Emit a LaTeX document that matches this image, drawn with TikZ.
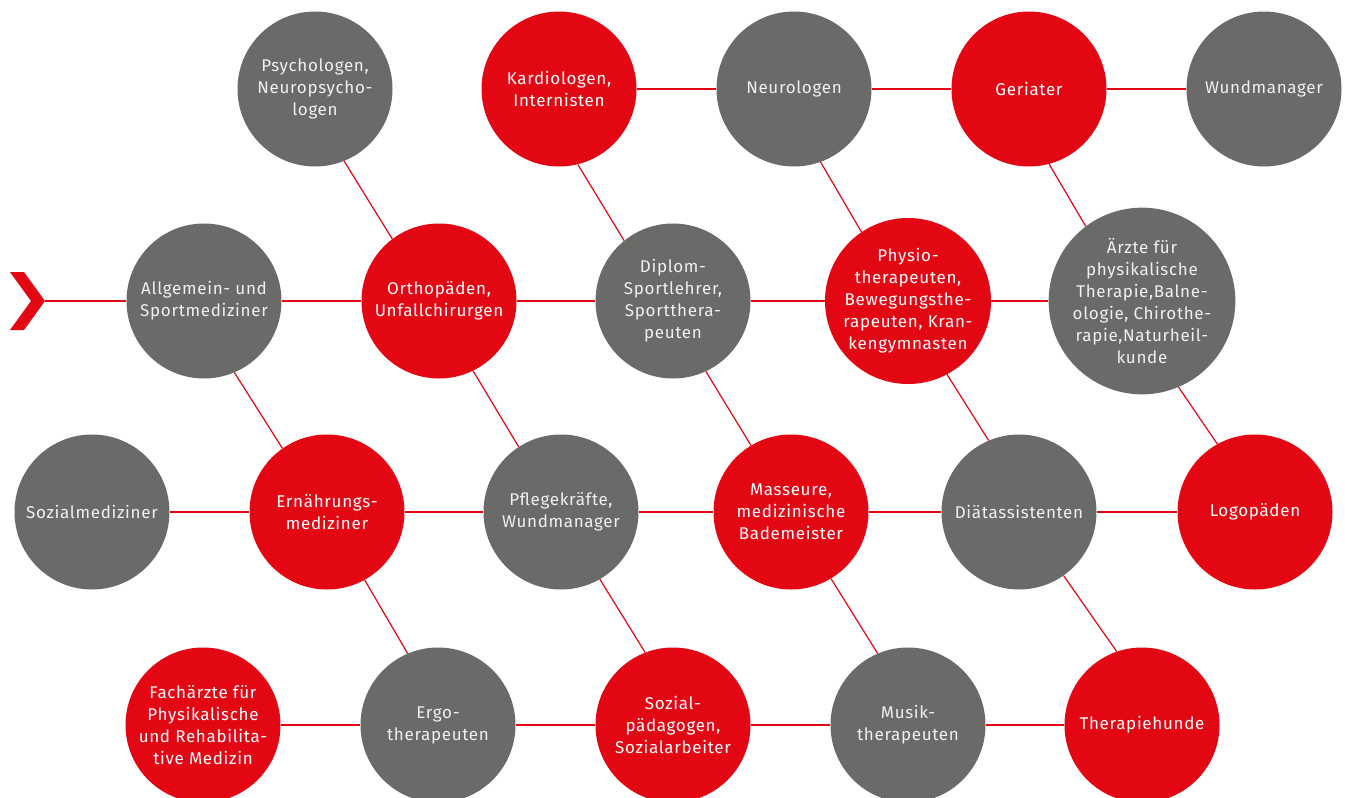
\documentclass[tikz,border=0pt]{standalone}
\usepackage{fontspec}
\setmainfont[LetterSpace=4]{Fira Sans}
\usepackage{tikz}
\definecolor{rkred}{HTML}{E30613}
\definecolor{rkgrey}{HTML}{6A6A68}
\tikzstyle{redcirc} = [circle, fill=rkred, minimum size=155pt, inner sep=0pt, text=white, align=center, font=\fontsize{17}{22}\selectfont]
\tikzstyle{greycirc} = [redcirc, fill=rkgrey, text=white!94!black]
\tikzstyle{link} = [draw=rkred, line width=1.2pt]

\begin{document}
\begin{tikzpicture}[x=1pt,y=-1pt]
\useasboundingbox (0,0) rectangle (1345,798);
\clip (0,0) rectangle (1345,798);

% row 1
\node[greycirc] (psych) at (315,89) {Psychologen,\\Neuropsycho-\\logen};
\node[redcirc] (kardio) at (559,89) {Kardiologen,\\Internisten};
\node[greycirc] (neuro) at (794,89) {Neurologen};
\node[redcirc] (geriater) at (1029,89) {Geriater};
\node[greycirc] (wund) at (1264,89) {Wundmanager};

% row 2
\node[greycirc] (allg) at (204,301) {Allgemein- und\\Sportmediziner};
\node[redcirc] (ortho) at (439,301) {Orthopäden,\\Unfallchirurgen};
\node[greycirc] (diplom) at (673,301) {Diplom-\\Sportlehrer,\\Sportthera-\\peuten};
\node[redcirc] (physio) at (908,301) {Physio-\\therapeuten,\\Bewegungsthe-\\rapeuten, Kran-\\kengymnasten};
\node[greycirc] (aerzte) at (1142,301) {Ärzte für\\physikalische\\Therapie,Balne-\\ologie, Chirothe-\\rapie,Naturheil-\\kunde};

% row 3
\node[greycirc] (sozmed) at (92,512) {Sozialmediziner};
\node[redcirc] (ernaehr) at (327,512) {Ernährungs-\\mediziner};
\node[greycirc] (pflege) at (561,512) {Pflegekräfte,\\Wundmanager};
\node[redcirc] (masseur) at (791,512) {Masseure,\\medizinische\\Bademeister};
\node[greycirc] (diaet) at (1019,512) {Diätassistenten};
\node[redcirc] (logo) at (1255,512) {Logopäden};

% row 4
\node[redcirc] (facharzt) at (203,725) {Fachärzte für\\Physikalische\\und Rehabilita-\\tive Medizin};
\node[greycirc] (ergo) at (438,725) {Ergo-\\therapeuten};
\node[redcirc] (sozpaed) at (673,725) {Sozial-\\pädagogen,\\Sozialarbeiter};
\node[greycirc] (musik) at (908,725) {Musik-\\therapeuten};
\node[redcirc] (hunde) at (1142,725) {Therapiehunde};

% start arrow
\fill[rkred] (10,272) -- (24,272) -- (45,301) -- (24,330) -- (10,330) -- (31,301) -- cycle;
\coordinate (start) at (45,301);
\draw[link] (start) -- (allg);

% horizontal links
\draw[link] (kardio) -- (neuro);
\draw[link] (neuro) -- (geriater);
\draw[link] (geriater) -- (wund);
\draw[link] (allg) -- (ortho);
\draw[link] (ortho) -- (diplom);
\draw[link] (diplom) -- (physio);
\draw[link] (physio) -- (aerzte);
\draw[link] (sozmed) -- (ernaehr);
\draw[link] (ernaehr) -- (pflege);
\draw[link] (pflege) -- (masseur);
\draw[link] (masseur) -- (diaet);
\draw[link] (diaet) -- (logo);
\draw[link] (facharzt) -- (ergo);
\draw[link] (ergo) -- (sozpaed);
\draw[link] (sozpaed) -- (musik);
\draw[link] (musik) -- (hunde);

% diagonal links
\foreach \a/\aa/\b/\bb in {psych/-68/ortho/127, kardio/-76/diplom/129, neuro/-70/physio/124, geriater/-75/aerzte/127,
  allg/-67/ernaehr/125, ortho/-64/pflege/123, diplom/-65/masseur/121, physio/-62/diaet/113, aerzte/-67/logo/119,
  ernaehr/-61/ergo/113, pflege/-60/sozpaed/111, masseur/-59/musik/113, diaet/-55/hunde/109}
  \draw[link] (\a.\aa) -- (\b.\bb);
\end{tikzpicture}
\end{document}
